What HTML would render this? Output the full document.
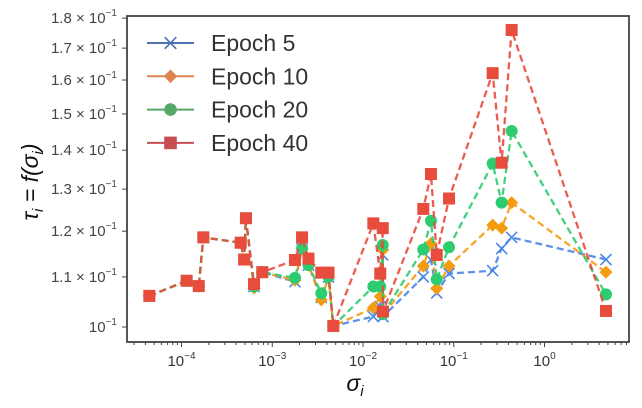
<!DOCTYPE html>
<html><head><meta charset="utf-8"><style>
html,body{margin:0;padding:0;background:#fff;}
svg{display:block;font-family:"Liberation Sans","DejaVu Sans",sans-serif;}
</style></head><body>
<svg id="chart" width="642" height="408" viewBox="0 0 642 408"></svg>
<script>
const sigma=[4.42e-5,1.14e-4,1.55e-4,1.74e-4,4.49e-4,4.9e-4,5.13e-4,6.3e-4,7.76e-4,1.78e-3,2.13e-3,2.51e-3,3.47e-3,4.17e-3,4.71e-3,0.0130,0.0155,0.0165,0.0166,0.0462,0.0561,0.0649,0.0887,0.2685,0.337,0.4345,4.76];
const epoch5 =[0.1061,0.1092,0.1081,0.1186,0.1174,0.1137,0.1230,0.1080,0.1110,0.1090,0.1160,0.1125,0.1058,0.1100,0.1002,0.1020,0.1040,0.1147,0.1020,0.1100,0.1136,0.1067,0.1107,0.1113,0.1161,0.1186,0.1137];
const epoch10=[0.1061,0.1092,0.1081,0.1186,0.1174,0.1137,0.1230,0.1077,0.1110,0.1093,0.1160,0.1125,0.1053,0.1100,0.1002,0.1037,0.1060,0.1158,0.1025,0.1123,0.1172,0.1076,0.1123,0.1214,0.1207,0.1267,0.1110];
const epoch20=[0.1061,0.1092,0.1081,0.1186,0.1174,0.1137,0.1230,0.1080,0.1110,0.1098,0.1161,0.1125,0.1066,0.1100,0.1002,0.1080,0.1080,0.1169,0.1025,0.1159,0.1224,0.1095,0.1164,0.1365,0.1267,0.1452,0.1064];
const epoch40=[0.1061,0.1092,0.1081,0.1186,0.1174,0.1137,0.1230,0.1085,0.1110,0.1136,0.1186,0.1139,0.1109,0.1109,0.1002,0.1218,0.1107,0.1207,0.1030,0.1252,0.1338,0.1147,0.1277,0.1621,0.1367,0.1760,0.1031];
const seriesNames=["Epoch 5","Epoch 10","Epoch 20","Epoch 40"];
const yTicks=[0.10,0.11,0.12,0.13,0.14,0.15,0.16,0.17,0.18];
const yTickLabels=["10","1.1 × 10","1.2 × 10","1.3 × 10","1.4 × 10","1.5 × 10","1.6 × 10","1.7 × 10","1.8 × 10"];
const xTickExps=[-4,-3,-2,-1,0];

const NS="http://www.w3.org/2000/svg";
const svg=document.getElementById('chart');
const L=127,R=629,T=16,B=342;
const xs=v=>544.5+90.75*Math.log10(v);
const ys=v=>327-1210*Math.log10(v/0.1);
function mk(tag,attrs,parent){const e=document.createElementNS(NS,tag);for(const k in attrs)e.setAttribute(k,attrs[k]);(parent||svg).appendChild(e);return e;}

const frame=mk('rect',{x:L,y:T,width:R-L,height:B-T,fill:'none',stroke:'#444','stroke-width':1.8});



const xg=mk('g',{});


for(let e=-5;e<=1;e++){for(let m=1;m<10;m++){const v=m*Math.pow(10,e);const x=xs(v);if(x<L||x>R)continue;
 mk('line',{x1:x,x2:x,y1:B,y2:B+(m==1?5:3),stroke:'#444','stroke-width':1},xg);}}
xTickExps.forEach(e=>{const t=mk('text',{x:xs(Math.pow(10,e)),y:B+24,'text-anchor':'middle','font-size':15,fill:'#333'},xg);
 
 
 t.textContent='10';const s=mk('tspan',{dy:-7,'font-size':10},t);s.textContent=(e<0?'−':'')+Math.abs(e);});
const yg=mk('g',{});


yTicks.forEach((v,i)=>{const y=ys(v);mk('line',{x1:L-5,x2:L,y1:y,y2:y,stroke:'#444'},yg);
 const t=mk('text',{x:L-10,y:y+5,'text-anchor':'end','font-size':15,fill:'#444'},yg);
 
 
 t.textContent=yTickLabels[i];const s=mk('tspan',{dy:-7,'font-size':10},t);s.textContent='−1';});

const xt=mk('text',{x:355,y:391,'text-anchor':'middle','font-size':23,'font-style':'italic',fill:'#111'});


xt.innerHTML='σ<tspan dy="5" font-size="15">i</tspan>';
const yt=mk('text',{x:0,y:0,'text-anchor':'middle','font-size':23,'font-style':'italic',fill:'#111',transform:'translate(38,182) rotate(-90)'});


yt.innerHTML='τ<tspan dy="5" font-size="15">i</tspan><tspan dy="-5"> = f(σ</tspan><tspan dy="5" font-size="15">i</tspan><tspan dy="-5">)</tspan>';

const cols=['#4a86e8','#f39c12','#2ecc71','#e74c3c'];
const legCols=['#4c72b0','#dd8452','#55a868','#c44e52'];
const data=[epoch5,epoch10,epoch20,epoch40];
function marker(k,x,y,c,g,s){s=s||1;
 if(k==0){mk('path',{d:`M${x-5.5*s},${y-5.5*s}L${x+5.5*s},${y+5.5*s}M${x-5.5*s},${y+5.5*s}L${x+5.5*s},${y-5.5*s}`,stroke:c,'stroke-width':1.6,fill:'none'},g);}
 else if(k==1){mk('path',{d:`M${x},${y-6.5*s}L${x+6.5*s},${y}L${x},${y+6.5*s}L${x-6.5*s},${y}Z`,fill:c},g);}
 else if(k==2){mk('circle',{cx:x,cy:y,r:6*s,fill:c},g);}
 else {mk('rect',{x:x-6*s,y:y-6*s,width:12*s,height:12*s,fill:c},g);}
}
data.forEach((arr,k)=>{
 const g=mk('g',{});
 
 
 const pts=arr.map((v,i)=>xs(sigma[i]).toFixed(1)+','+ys(v).toFixed(1)).join(' ');
 mk('polyline',{points:pts,fill:'none',stroke:cols[k],'stroke-width':2.3,'stroke-dasharray':'7,4',opacity:0.9},g);
 arr.forEach((v,i)=>marker(k,xs(sigma[i]),ys(v),cols[k],g));
});

const lg=mk('g',{});


seriesNames.forEach((n,k)=>{
 const y=43+k*33.3;
 const e=mk('g',{},lg);
 
 
 mk('line',{x1:147,x2:194,y1:y,y2:y,stroke:legCols[k],'stroke-width':2},e);
 marker(k,170.5,y,legCols[k],e,1.05);
 const t=mk('text',{x:211,y:y+8,'font-size':23,fill:'#333'},e);t.textContent=n;
});
</script>
</body></html>
